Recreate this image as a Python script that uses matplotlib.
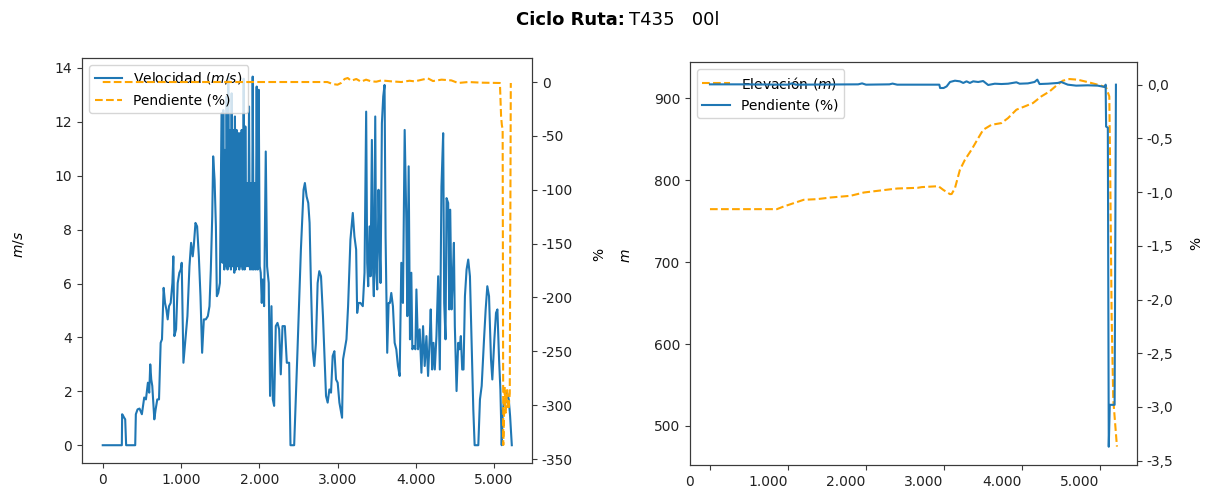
import matplotlib
matplotlib.use("Agg")
import matplotlib.pyplot as plt
from matplotlib.ticker import FixedLocator, FuncFormatter
from matplotlib.transforms import ScaledTranslation

# ---------------- data: left panel ----------------
dist_v = [0, 244, 248, 261, 274, 287, 299, 415, 423, 445, 470, 500, 530, 552, 577, 594, 607, 620, 633,
          659, 676, 697, 719, 740, 757, 778, 796, 813, 830, 847, 868, 890, 902, 915, 937, 958, 979, 997,
          1009, 1031, 1056, 1082, 1108, 1129, 1150, 1163, 1185, 1206, 1228, 1249, 1270, 1292, 1317, 1343,
          1364, 1381, 1399, 1411, 1429, 1446, 1458, 1476, 1497,
          1518, 1531, 1540, 1553, 1561, 1574, 1583, 1595, 1604, 1617, 1625, 1638, 1647, 1659, 1668, 1681,
          1689, 1702, 1711, 1724, 1732, 1745, 1754, 1766, 1775, 1788, 1801, 1813, 1822, 1835, 1848, 1860,
          1869, 1882, 1895, 1908, 1916, 1929, 1942, 1955, 1967, 1980, 1993, 2006, 2019, 2032,
          2044, 2062, 2083, 2100, 2121, 2138, 2156, 2173, 2190, 2211, 2233, 2254, 2275, 2297, 2327, 2352,
          2382, 2399, 2446, 2489, 2532, 2566, 2583, 2605, 2626, 2643, 2660, 2682, 2703, 2724, 2746, 2767,
          2789, 2814, 2853, 2874, 2896, 2917, 2938, 2960, 2981, 3002, 3024, 3058, 3071, 3092, 3114, 3135,
          3165, 3195, 3216, 3238, 3251, 3268, 3293, 3323, 3345, 3366, 3379, 3392, 3409, 3422, 3439, 3452,
          3464, 3482, 3494, 3507, 3524, 3537, 3550, 3567, 3584, 3601, 3614, 3635, 3653, 3670, 3687, 3708,
          3730, 3751, 3772, 3794, 3815, 3836, 3858, 3879, 3892, 3909, 3926, 3943, 3956, 3978, 3995, 4008,
          4029, 4050, 4072, 4093, 4114, 4136, 4157, 4179, 4191, 4209, 4226, 4243, 4264, 4286, 4307, 4328,
          4350, 4363, 4380, 4393, 4414, 4427, 4440, 4457, 4469, 4487, 4499, 4521, 4542, 4559, 4576, 4593,
          4610, 4628, 4649, 4670, 4692, 4713, 4735, 4752, 4799, 4820, 4842, 4872, 4893, 4914, 4936, 4961,
          4978, 5004, 5025, 5043, 5064, 5081, 5098, 5111, 5128, 5149, 5167, 5188, 5205, 5227]
velocidad = [0, 0, 1.15, 1.09, 1.02, 0.96, 0, 0, 1.15, 1.33, 1.36, 1.15, 1.77, 1.70, 2.32, 1.95, 3.0, 2.44, 2.2,
             0.96, 1.33, 1.70, 1.70, 3.80, 3.93, 5.84, 5.28, 5.04, 4.67, 5.16, 5.28, 6.02, 7.01, 4.05, 4.30, 6.02, 6.40, 6.52,
             6.77, 3.06, 3.93, 4.79, 6.64, 7.51, 7.01, 7.38, 8.25, 8.12, 7.01, 5.53, 3.43, 4.67, 4.67, 4.79,
             5.16, 6.52, 8.49, 10.72, 9.85, 8.12, 5.53, 5.65, 6.02,
             12.32, 6.77, 12.44, 6.52, 10.96, 6.64, 12.94, 6.52, 13.68, 6.64, 11.70, 6.52, 13.06, 6.64, 11.70, 6.40,
             12.20, 6.52, 11.70, 6.64, 11.58, 6.52, 11.58, 6.64, 11.70, 6.52, 13.60, 6.52, 11.83, 6.64, 9.73, 6.64,
             12.57, 6.52, 9.73, 6.52, 13.68, 6.52, 9.73, 6.52, 13.31, 6.52, 13.19, 6.64, 6.40, 5.28,
             6.15, 5.16, 10.90, 6.64, 6.02, 1.83, 5.16, 1.70, 1.46, 4.42, 4.54, 4.30, 2.63, 4.42, 4.42, 3.06,
             3.06, 0, 0, 3.56, 7.26, 9.48, 9.73, 9.23, 8.99, 8.25, 6.02, 3.56, 2.94, 3.80, 6.02, 6.46,
             6.27, 4.79, 1.83, 1.58, 2.07, 1.95, 3.31, 3.49, 2.44, 2.32, 1.58, 1.02, 3.19, 3.56, 3.93, 5.16,
             7.63, 8.62, 7.75, 7.26, 4.91, 5.28, 5.28, 5.16, 6.40, 12.38, 6.77, 5.90, 8.12, 6.27, 11.33, 6.77,
             5.53, 12.20, 6.40, 5.78, 9.48, 7.51, 6.02, 11.95, 12.94, 13.37, 7.75, 3.43, 5.28, 5.28, 5.65, 5.16,
             3.80, 3.56, 2.94, 2.57, 6.77, 5.28, 11.70, 8.37, 4.79, 10.35, 3.93, 6.40, 3.56, 3.68, 3.56, 5.78,
             3.56, 4.30, 2.69, 4.42, 2.94, 4.05, 2.57, 4.05, 5.04, 2.81, 3.80, 2.81, 4.05, 6.27, 2.81, 9.60,
             11.58, 5.28, 3.93, 9.17, 8.99, 5.04, 8.74, 5.04, 5.90, 7.51, 4.42, 2.01, 3.80, 3.56, 4.05, 2.81,
             2.81, 5.53, 6.52, 6.89, 6.27, 3.93, 1.33, 0, 0, 1.70, 2.20, 3.93, 5.04, 5.90, 5.53, 3.19,
             2.44, 3.93, 4.91, 5.04, 3.19, 2.07, 0, 1.21, 1.70, 1.58, 1.95, 1.70, 1.09, 0]

dist_p = [0, 990, 2870, 2940, 3000, 3045, 3090, 3130, 3175, 3240, 3300, 3365, 3430, 3495, 3560, 3690,
          3815, 3920, 3985, 4155, 4220, 4330, 4455, 4540, 4670, 4840, 5075, 5090, 5100, 5110, 5118, 5137,
          5149, 5167, 5184, 5201, 5214]
pendiente_pct = [0, 0, 0, -1.9, -2.5, -0.9, 2.8, 3.7, 1.2, 2.8, 0.3, 2.2, 0.6, 0.3, 1.5, 0.6,
                 0, 1.2, 0.6, 3.4, 0.9, 2.2, 1.5, -0.9, 0, -0.6, -0.9, -32, -40, -44, -337, -283,
                 -307, -286, -304, -289, -0.9]

# ---------------- data: right panel ----------------
dist_e = [0, 858, 944, 1073, 1201, 1373, 1544, 1802, 1973, 2188, 2402, 2660, 2715, 2928, 2991, 3077,
          3098, 3140, 3204, 3268, 3353, 3438, 3502, 3608, 3736, 3821, 3928, 4034, 4140, 4247, 4353, 4438,
          4523, 4609, 4715, 4843, 4970, 5076, 5119, 5132, 5149, 5170, 5187, 5217]
elevacion = [764.5, 764.5, 767.7, 771.8, 775.9, 776.7, 778.7, 780.8, 784.8, 787.3, 789.7, 790.5, 791.4, 792.5, 788, 782.8,
             783, 790, 812.5, 824.7, 837, 851, 861.3, 867.4, 869.5, 875.6, 885.8, 889.8, 893.9, 902, 908.1, 915,
             921.2, 923.2, 922.4, 919.5, 916.3, 913.4, 902, 796, 633.5, 531.7, 511.4, 474.8]

dist_s = [0, 400, 1000, 1050, 1100, 1900, 1950, 2000, 2300, 2340, 2400, 2940, 2950, 2995, 3034, 3077,
          3140, 3204, 3247, 3289, 3332, 3374, 3438, 3502, 3566, 3651, 3736, 3821, 3928, 3970, 4076, 4161,
          4196, 4225, 4332, 4459, 4502, 4587, 4694, 4843, 4970, 5064, 5072, 5078, 5100, 5112, 5125, 5187, 5204]
pendiente_frac = [0.003, 0.003, 0.0, 0.012, 0.0, 0.003, 0.012, 0.0, 0.003, 0.01, 0.0, 0.0, -0.031, -0.031, -0.016, 0.025,
                  0.037, 0.031, 0.016, 0.031, 0.016, 0.031, 0.025, 0.034, -0.003, 0.009, 0.006, 0.009, 0.022, 0.009, 0.012, 0.025,
                  0.047, 0.006, 0.009, 0.016, 0.025, 0.0, -0.009, -0.006, -0.009, -0.022, 0.0, -0.39, -0.40, -3.37, -2.98, -2.98, 0.0]

x_ticks = [0, 1000, 2000, 3000, 4000, 5000]

BLUE = '#1f77b4'
ORANGE = 'orange'
EDGE = '#3a3a3a'
FS = 10

plt.rcParams['font.family'] = ['DejaVu Sans']
plt.rcParams['font.size'] = FS
plt.rcParams['axes.edgecolor'] = EDGE
plt.rcParams['xtick.color'] = EDGE
plt.rcParams['ytick.color'] = EDGE
plt.rcParams['xtick.labelcolor'] = '#222222'
plt.rcParams['ytick.labelcolor'] = '#222222'

W, H = 1206, 490
fig = plt.figure(figsize=(W / 100, H / 100), dpi=100)

thousands = FuncFormatter(lambda v, p: f"{int(round(v)):,}".replace(",", "."))

# ---------------- left panel ----------------
ax1 = fig.add_axes([82 / W, 1 - 463 / H, 450 / W, 405 / H])
ax1b = ax1.twinx()
l1, = ax1.plot(dist_v, velocidad, color=BLUE, lw=1.5, label='Velocidad ($m/s$)')
l2, = ax1b.plot(dist_p, pendiente_pct, color=ORANGE, ls='--', lw=1.5, label='Pendiente (%)')
ax1.set_xlim(-265, 5485)
ax1.set_ylim(-0.66, 14.37)
ax1b.set_ylim(-353.7, 22.3)
ax1.xaxis.set_major_locator(FixedLocator(x_ticks))
ax1.xaxis.set_major_formatter(thousands)
ax1.yaxis.set_major_locator(FixedLocator(list(range(0, 15, 2))))
ax1b.yaxis.set_major_locator(FixedLocator(list(range(-350, 1, 50))))
ax1b.yaxis.set_major_formatter(FuncFormatter(lambda v, p: f"{int(round(v))}"))
ax1.set_ylabel('$m/s$')
ax1.yaxis.set_label_coords(-0.125, 0.54)
ax1b.set_ylabel('%')
ax1b.yaxis.set_label_coords(1.133, 0.515)
ax1.legend(handles=[l1, l2], loc='upper left', fontsize=FS)

# ---------------- right panel ----------------
ax2 = fig.add_axes([690 / W, 1 - 465 / H, 447 / W, 403 / H])
ax2b = ax2.twinx()
e1, = ax2.plot(dist_e, elevacion, color=ORANGE, ls='--', lw=1.5, label='Elevación ($m$)')
e2, = ax2b.plot(dist_s, pendiente_frac, color=BLUE, lw=1.5, label='Pendiente (%)')
ax2.set_xlim(-256, 5474)
ax2.set_ylim(452.4, 944)
ax2b.set_ylim(-3.54, 0.211)
ax2.xaxis.set_major_locator(FixedLocator(x_ticks))
ax2.xaxis.set_major_formatter(thousands)
ax2.yaxis.set_major_locator(FixedLocator([500, 600, 700, 800, 900]))
ax2b.yaxis.set_major_locator(FixedLocator([-3.5, -3.0, -2.5, -2.0, -1.5, -1.0, -0.5, 0.0]))
ax2b.yaxis.set_major_formatter(FuncFormatter(lambda v, p: f"{v:.1f}".replace(".", ",")))
ax2.set_ylabel('$m$')
ax2.yaxis.set_label_coords(-0.128, 0.52)
ax2b.set_ylabel('%')
ax2b.yaxis.set_label_coords(1.116, 0.55)
ax2.legend(handles=[e1, e2], loc='upper left', fontsize=FS)

# tick labels of the right panel sit ~20 px left of their ticks in the reference
shift = ScaledTranslation(-20 / 100, 0, fig.dpi_scale_trans)
for lab in ax2.xaxis.get_majorticklabels():
    lab.set_transform(lab.get_transform() + shift)

# ---------------- title ----------------
fig.text(625 / W, 1 - 20 / H, 'Ciclo Ruta:', ha='right', va='center', fontsize=13, fontweight='bold')
fig.text(629 / W, 1 - 20 / H, 'T435   00l', ha='left', va='center', fontsize=13)

fig.savefig('out.png', dpi=100)
